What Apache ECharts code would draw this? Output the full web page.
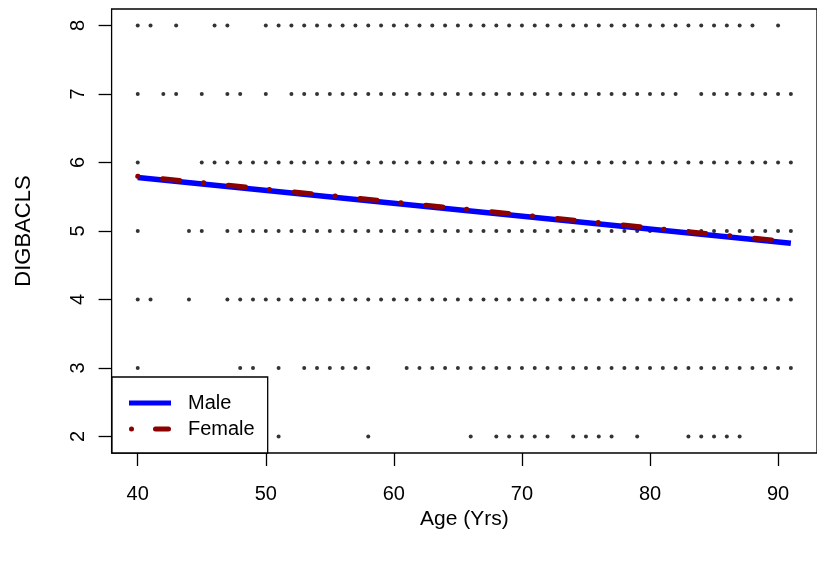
<!DOCTYPE html>
<html>
<head>
<meta charset="utf-8">
<script src="https://cdn.jsdelivr.net/npm/echarts@6/dist/echarts.min.js"></script>
<style>
html,body{margin:0;padding:0;background:#fff;}
#chart{width:817px;height:561px;}
</style>
</head>
<body>
<div id="chart"></div>
<script>
// Observed ages for each DIGBACLS score
var ages8 = [40,41,43,46,47,50,51,52,53,54,55,56,57,58,59,60,61,62,63,64,65,66,67,68,69,70,71,72,73,74,75,76,77,78,79,80,81,82,83,84,85,86,87,88,90];
var ages7 = [40,42,43,45,47,48,50,52,53,54,55,56,57,58,59,60,61,62,63,64,65,66,67,68,69,70,71,72,73,74,75,76,77,78,79,80,81,82,84,85,86,87,88,89,90,91];
var ages6 = [40,45,46,47,48,49,50,51,52,53,54,55,56,57,58,59,60,61,62,63,64,65,66,67,68,69,70,71,72,73,74,75,76,77,78,79,80,81,82,83,84,85,86,87,88,89,90,91];
var ages5 = [40,44,45,47,48,49,50,51,52,53,54,55,56,57,58,59,60,61,62,63,64,65,66,67,68,69,70,71,72,73,74,75,76,77,78,79,80,81,82,83,84,85,86,87,88,89,90,91];
var ages4 = [40,41,44,47,48,49,50,51,52,53,54,55,56,57,58,59,60,61,62,63,64,65,66,67,68,69,70,71,72,73,74,75,76,77,78,79,80,81,82,83,84,85,86,87,88,89,90,91];
var ages3 = [40,48,49,51,53,54,55,56,57,58,61,62,63,64,65,66,67,68,69,70,71,72,73,74,75,76,77,78,79,80,81,82,83,84,85,86,87,88,89,90,91];
var ages2 = [51,58,66,68,69,70,71,72,74,75,76,77,79,83,84,85,86,87];
var scoreRows = [[8, ages8],[7, ages7],[6, ages6],[5, ages5],[4, ages4],[3, ages3],[2, ages2]];

// Fitted lines (endpoints)
var fitAges = [40, 91];
var maleFit = [5.78, 4.82];
var femaleFit = [5.80, 4.84];

var xTicks = [40, 50, 60, 70, 80, 90];
var yTicks = [2, 3, 4, 5, 6, 7, 8];

var pts = [];
scoreRows.forEach(function(r){ r[1].forEach(function(a){ pts.push([a, r[0]]); }); });
var maleData = fitAges.map(function(a,i){ return [a, maleFit[i]]; });
var femaleData = fitAges.map(function(a,i){ return [a, femaleFit[i]]; });

var FONT = '"Liberation Sans", Arial, Helvetica, sans-serif';
var chart = echarts.init(document.getElementById('chart'), null, {renderer:'canvas'});
chart.setOption({
  animation: false,
  backgroundColor: '#ffffff',
  textStyle: {fontFamily: FONT},
  grid: {left: 111.6, top: 9, width: 714, height: 444, show: true, borderColor: '#000', borderWidth: 1.3, backgroundColor: 'transparent', containLabel: false},
  legend: {
    orient: 'vertical', left: 112, top: 377,
    backgroundColor: '#fff', borderColor: '#000', borderWidth: 1.3, borderRadius: 0,
    padding: [16, 13, 14, 17],
    itemWidth: 42, itemHeight: 5, itemGap: 6,
    textStyle: {fontFamily: FONT, fontSize: 20, color: '#000', padding: [0,0,0,12], lineHeight: 20},
    data: [
      {name: 'Male', icon: 'path://M0,0 L42,0 L42,5 L0,5 Z'},
      {name: 'Female', icon: 'path://M0,2.5 A2.5,2.5 0 1,1 5,2.5 A2.5,2.5 0 1,1 0,2.5 Z M26.5,0 L39.5,0 A2.5,2.5 0 0,1 39.5,5 L26.5,5 A2.5,2.5 0 0,1 26.5,0 Z'}
    ]
  },
  xAxis: {
    type: 'value', min: 37.96, max: 93.04,
    name: 'Age (Yrs)', nameLocation: 'middle', nameGap: 53,
    nameTextStyle: {fontFamily: FONT, fontSize: 21, color: '#000'},
    axisLine: {show: false},
    axisTick: {show: true, inside: false, length: 13, customValues: xTicks, lineStyle: {color: '#000', width: 1.3}},
    axisLabel: {show: true, customValues: xTicks, margin: 31, fontFamily: FONT, fontSize: 20, color: '#000'},
    splitLine: {show: false}
  },
  yAxis: {
    type: 'value', min: 1.76, max: 8.24,
    name: 'DIGBACLS', nameLocation: 'middle', nameGap: 77,
    nameTextStyle: {fontFamily: FONT, fontSize: 22, color: '#000'},
    axisLine: {show: false},
    axisTick: {show: true, inside: false, length: 13, customValues: yTicks, lineStyle: {color: '#000', width: 1.3}},
    axisLabel: {show: true, customValues: yTicks, rotate: 90, margin: 23, fontFamily: FONT, fontSize: 20, color: '#000'},
    splitLine: {show: false}
  },
  series: [
    {name: 'points', type: 'scatter', data: pts, symbol: 'circle', symbolSize: 4,
     itemStyle: {color: '#000'}, z: 1, silent: true},
    {name: 'Male', type: 'line', data: maleData, showSymbol: false, symbol: 'none',
     lineStyle: {color: '#0000ff', width: 5.5, cap: 'butt'}, itemStyle: {color: '#0000ff'}, z: 2},
    {name: 'Female', type: 'line', data: femaleData, showSymbol: false, symbol: 'none',
     lineStyle: {color: '#8b0000', width: 5, cap: 'round', type: [0.1, 25, 17, 24]}, itemStyle: {color: '#8b0000'}, z: 3}
  ]
});
</script>
</body>
</html>
